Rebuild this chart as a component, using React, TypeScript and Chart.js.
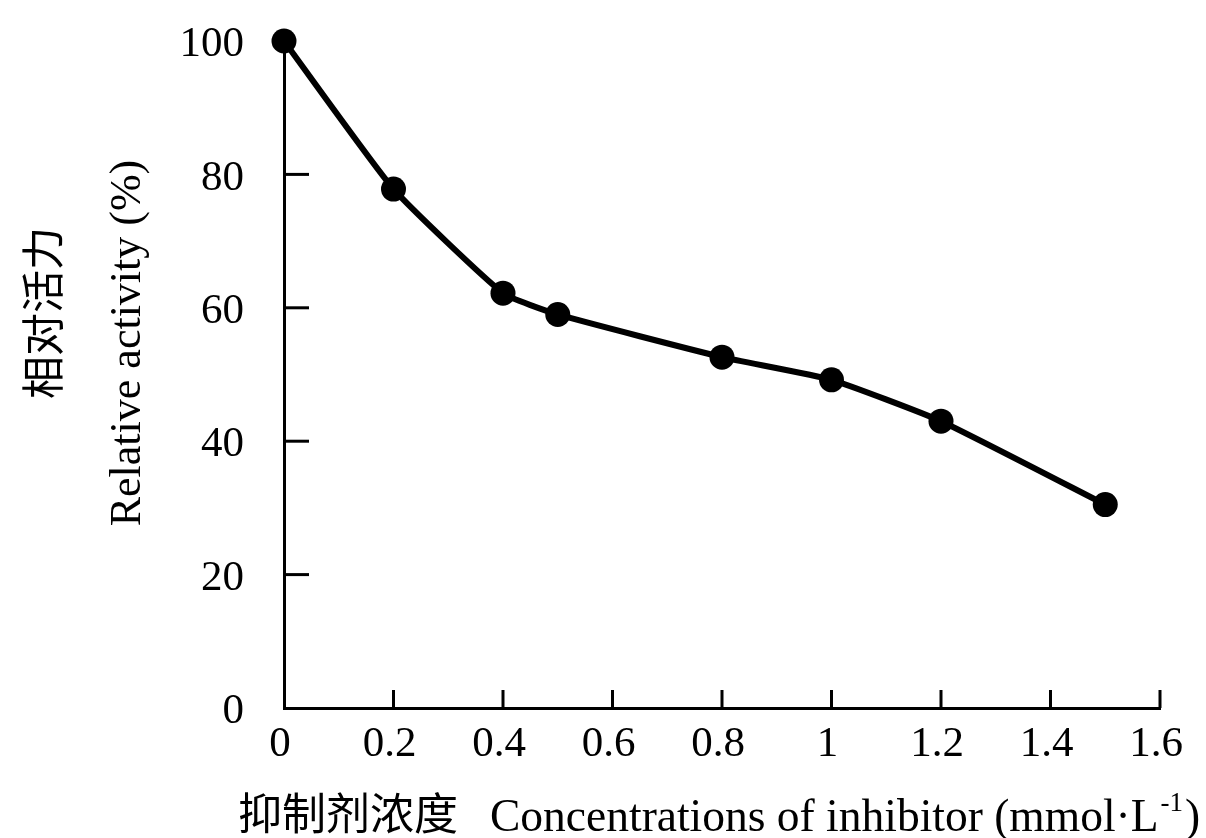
import React, { useEffect, useRef } from "react";
import { Chart, registerables } from "chart.js";

Chart.register(...registerables);

const concentrations = [0, 0.2, 0.4, 0.5, 0.8, 1.0, 1.2, 1.5];
const relativeActivity = [100, 77.8, 62.2, 59.0, 52.6, 49.2, 43.0, 30.5];
const xTickValues = [0, 0.2, 0.4, 0.6, 0.8, 1.0, 1.2, 1.4, 1.6];
const yTickValues = [0, 20, 40, 60, 80, 100];

const xTitleZh = "抑制剂浓度";
const xTitleEn = "Concentrations of inhibitor (mmol·L";
const xTitleSup = "-1";
const xTitleEnd = ")";
const yTitleZh = "相对活力";
const yTitleEn = "Relative activity (%)";

const SERIF = "'Liberation Serif', 'Times New Roman', serif";
const CJK = "'Noto Sans CJK SC', sans-serif";

const innerTicksPlugin = {
  id: "innerTicks",
  afterDraw(chart: any) {
    const ctx = chart.ctx;
    const xs = chart.scales.x;
    const ys = chart.scales.y;
    const area = chart.chartArea;
    ctx.save();
    ctx.strokeStyle = "#000";
    ctx.lineWidth = 3;
    ctx.lineCap = "butt";
    for (const v of yTickValues) {
      if (v === 0 || v === 100) continue;
      const py = ys.getPixelForValue(v);
      ctx.beginPath();
      ctx.moveTo(area.left, py);
      ctx.lineTo(area.left + 25, py);
      ctx.stroke();
    }
    for (const v of xTickValues) {
      if (v === 0) continue;
      const px = xs.getPixelForValue(v);
      ctx.beginPath();
      ctx.moveTo(px, area.bottom);
      ctx.lineTo(px, area.bottom - 18);
      ctx.stroke();
    }
    ctx.restore();
  },
};

const titlesPlugin = {
  id: "titles",
  afterDraw(chart: any) {
    const ctx = chart.ctx;
    ctx.save();
    ctx.fillStyle = "#000";
    // x title
    ctx.textBaseline = "middle";
    ctx.textAlign = "left";
    ctx.font = `44px ${CJK}`;
    ctx.fillText(xTitleZh, 238, 813);
    ctx.textBaseline = "alphabetic";
    ctx.font = `45.5px ${SERIF}`;
    const enX = 490;
    ctx.fillText(xTitleEn, enX, 831);
    const w1 = ctx.measureText(xTitleEn).width;
    ctx.font = `27px ${SERIF}`;
    ctx.fillText(xTitleSup, enX + w1 + 2, 811);
    const w2 = ctx.measureText(xTitleSup).width;
    ctx.font = `45.5px ${SERIF}`;
    ctx.fillText(xTitleEnd, enX + w1 + w2 + 4, 831);

    // y titles
    ctx.save();
    ctx.translate(43, 313);
    ctx.rotate(-Math.PI / 2);
    ctx.textAlign = "center";
    ctx.textBaseline = "middle";
    ctx.font = `43px ${CJK}`;
    ctx.fillText(yTitleZh, 0, 0);
    ctx.restore();

    ctx.save();
    ctx.translate(140, 343);
    ctx.rotate(-Math.PI / 2);
    ctx.textAlign = "center";
    ctx.textBaseline = "alphabetic";
    ctx.font = `44px ${SERIF}`;
    ctx.fillText(yTitleEn, 0, 0);
    ctx.restore();
    ctx.restore();
  },
};

export default function App() {
  const canvasRef = useRef<HTMLCanvasElement | null>(null);

  useEffect(() => {
    document.body.style.margin = "0";
    document.body.style.background = "#fff";
    const canvas = canvasRef.current;
    if (!canvas) return;
    const data = concentrations.map((x, i) => ({ x, y: relativeActivity[i] }));
    const chart = new Chart(canvas, {
      type: "line",
      data: {
        datasets: [
          {
            data,
            borderColor: "#000",
            backgroundColor: "#000",
            borderWidth: 6,
            pointRadius: 12.5,
            pointHoverRadius: 12.5,
            pointBackgroundColor: "#000",
            pointBorderColor: "#000",
            pointBorderWidth: 0,
            tension: 0.15,
            clip: false as any,
          },
        ],
      },
      options: {
        responsive: false,
        animation: false,
        events: [],
        layout: { padding: { left: 0, top: 41, right: 46, bottom: 0 } },
        plugins: {
          legend: { display: false },
          tooltip: { enabled: false },
          title: { display: false },
        },
        scales: {
          x: {
            type: "linear",
            min: 0,
            max: 1.6,
            afterFit: (s: any) => {
              s.height = 130;
              s.paddingLeft = 0;
              s.paddingRight = 0;
            },
            afterBuildTicks: (s: any) => {
              s.ticks = xTickValues.map((v) => ({ value: v }));
            },
            grid: { display: true, drawOnChartArea: false, drawTicks: false, color: "rgba(0,0,0,0)" },
            border: { display: true, color: "#000", width: 3 },
            ticks: {
              padding: 11,
              labelOffset: -4,
              color: "#000",
              font: { family: SERIF, size: 43 },
              maxRotation: 0,
              autoSkip: false,
              callback: (v: any) => String(parseFloat(Number(v).toFixed(1))),
            },
          },
          y: {
            type: "linear",
            min: 0,
            max: 100,
            afterFit: (s: any) => {
              s.width = 284;
              s.paddingTop = 0;
              s.paddingBottom = 0;
            },
            afterBuildTicks: (s: any) => {
              s.ticks = yTickValues.map((v) => ({ value: v }));
            },
            grid: { display: true, drawOnChartArea: false, drawTicks: false, color: "rgba(0,0,0,0)" },
            border: { display: true, color: "#000", width: 3 },
            ticks: {
              padding: 40,
              labelOffset: 4,
              color: "#000",
              font: { family: SERIF, size: 43 },
              autoSkip: false,
              callback: (v: any) => String(v),
            },
          },
        },
      },
      plugins: [innerTicksPlugin, titlesPlugin],
    });
    return () => chart.destroy();
  }, []);

  return (
    <div style={{ width: 1206, height: 838, background: "#fff" }}>
      <canvas ref={canvasRef} width={1206} height={838} style={{ display: "block" }} />
    </div>
  );
}
